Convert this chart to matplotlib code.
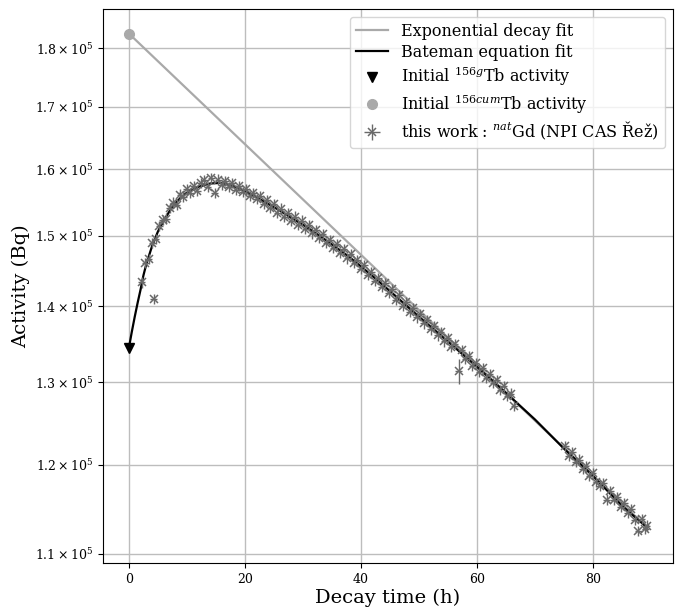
"""
Tb-156 decay: exponential vs Bateman fit, with measured activities.
Saves out.png
"""

import matplotlib
matplotlib.use("Agg")
import matplotlib.pyplot as plt
from matplotlib.ticker import NullLocator, NullFormatter

plt.rcParams["font.family"] = "serif"
plt.rcParams["font.serif"] = ["DejaVu Serif"]
plt.rcParams["mathtext.fontset"] = "dejavuserif"

# ── Data (activities in kBq) ───────────────────────────────────────────────
exp_t   = [0.0, 89.3]
exp_act = [182.6, 112.9]

bateman_t = [0, 0.5, 1, 1.5, 2, 2.5, 3, 4, 5, 6, 7, 8, 9, 10, 12, 14, 16, 18, 20,
             22, 24, 26, 28, 30, 34, 38, 42, 46, 50, 55, 60, 65, 70, 75, 80, 85, 89.3]
bateman_act = [134.5, 136.6, 138.6, 140.5, 142.3, 144.3, 145.9, 148.5, 150.6, 152.2,
               153.6, 154.8, 155.7, 156.4, 157.3, 157.8, 157.9, 157.4, 156.6,
               155.7, 154.7, 153.7, 152.6, 151.6, 149.3, 146.9, 144.2, 141.4,
               138.6, 135.3, 132.0, 128.7, 125.4, 121.9, 118.7, 115.3, 112.9]

init_g_t,   init_g_act   = [0.0], [134.5]
init_cum_t, init_cum_act = [0.0], [182.6]

meas_t = [
    2.2, 2.8, 3.4, 4.0, 4.3, 4.6, 5.2, 5.8, 6.4, 7.0, 7.6, 8.2, 8.8, 9.4, 10.0,
    10.6, 11.2, 11.8, 12.4, 13.0, 13.6, 14.2, 14.8, 15.4, 16.0, 16.6, 17.2, 17.8,
    18.4, 19.0, 19.6, 20.2, 20.8, 21.4, 22.0, 22.6, 23.2, 23.8, 24.4, 25.0, 25.6,
    26.2, 26.8, 27.4, 28.0, 28.6, 29.2, 29.8, 30.4, 31.0, 31.6, 32.2, 32.8, 33.4,
    34.0, 34.6, 35.2, 35.8, 36.4, 37.0, 37.6, 38.2, 38.8, 39.4, 40.0, 40.6, 41.2,
    41.8, 42.4, 43.0, 43.6, 44.2, 44.8, 45.4, 46.0, 46.6, 47.2, 47.8, 48.4, 49.0,
    49.6, 50.2, 50.8, 51.4, 52.0, 52.6, 53.2, 53.8, 54.4, 55.0, 55.6, 56.2, 56.9,
    57.4, 58.0, 58.6, 59.2, 59.8, 60.4, 61.0, 61.6, 62.2, 62.8, 63.4, 64.0, 64.6,
    65.2, 65.8, 66.4,
    75.2, 75.8, 76.4, 77.0, 77.6, 78.2, 78.8, 79.4, 80.0, 80.6, 81.2, 81.8, 82.4,
    83.0, 83.6, 84.2, 84.8, 85.4, 86.0, 86.6, 87.2, 87.8, 88.4, 89.0, 89.3,
]
meas_act = [
    143.3, 146.0, 146.6, 148.9, 141.0, 149.5, 151.4, 152.3, 152.5, 154.1, 154.9,
    154.6, 156.1, 155.8, 156.9, 156.3, 157.4, 156.6, 157.9, 158.3, 157.3, 158.6,
    156.3, 158.4, 157.6, 158.2, 157.3, 157.9, 156.8, 157.4, 156.5, 156.9, 155.9,
    156.4, 155.4, 155.9, 154.7, 155.3, 154.1, 154.7, 153.4, 154.0, 152.8, 153.3,
    152.2, 152.8, 151.5, 152.2, 151.0, 151.6, 150.3, 150.8, 149.6, 150.2, 148.9,
    149.4, 148.2, 148.7, 147.5, 148.0, 146.7, 147.3, 146.0, 146.5, 145.2, 145.7,
    144.3, 144.8, 143.5, 143.9, 142.7, 143.2, 141.8, 142.4, 140.9, 141.5, 140.1,
    140.6, 139.2, 139.8, 138.5, 138.9, 137.7, 138.1, 136.9, 137.3, 136.1, 136.5,
    135.3, 135.8, 134.6, 135.0, 131.4, 134.2, 133.0, 133.4, 132.1, 132.5, 131.3,
    131.8, 130.6, 131.1, 129.9, 130.3, 129.1, 129.5, 128.3, 128.6, 127.1,
    122.2, 121.0, 121.5, 120.3, 120.6, 119.5, 119.8, 118.7, 119.0, 118.0, 117.5,
    117.9, 116.0, 117.0, 116.0, 116.3, 115.2, 115.6, 114.5, 114.9, 113.7, 112.5,
    113.8, 112.7, 113.1,
]
REL_ERR     = 0.005      # typical relative uncertainty
OUTLIER_T   = 56.9       # point with the large uncertainty
OUTLIER_ERR = 1.6        # kBq

TIME_ERR = 0.6           # h

Y_TICKS = [1.1e5, 1.2e5, 1.3e5, 1.4e5, 1.5e5, 1.6e5, 1.7e5, 1.8e5]

# ── Plot ───────────────────────────────────────────────────────────────────
to_bq = lambda vals: [v * 1e3 for v in vals]

yerr = [OUTLIER_ERR * 1e3 if t == OUTLIER_T else a * 1e3 * REL_ERR
        for t, a in zip(meas_t, meas_act)]

fig = plt.figure(figsize=(6.8, 6.09), dpi=100)
ax = fig.add_axes([0.1515, 0.075, 0.8382, 0.9107])

ax.plot(exp_t, to_bq(exp_act), color="darkgray", lw=1.6, label="Exponential decay fit", zorder=2)
ax.plot(bateman_t, to_bq(bateman_act), color="black", lw=1.6, label="Bateman equation fit", zorder=3)
ax.plot(init_g_t, to_bq(init_g_act), "v", color="black", ms=7,
        label=r"Initial $^{156g}$Tb activity", zorder=4)
ax.plot(init_cum_t, to_bq(init_cum_act), "o", color="darkgray", ms=7,
        label=r"Initial $^{156cum}$Tb activity", zorder=4)
ax.errorbar(meas_t, to_bq(meas_act), xerr=TIME_ERR, yerr=yerr, fmt="x",
            color="dimgray", ecolor="dimgray", ms=6, mew=1.1, elinewidth=1.0,
            label=r"this work : $^{nat}$Gd (NPI CAS Řež)", zorder=5)

ax.set_yscale("log")
ax.set_xlim(-4.47, 93.8)
ax.set_ylim(1.0901e5, 1.8708e5)
ax.set_yticks(Y_TICKS)
ax.set_yticklabels([rf"${v / 1e5:.1f}\times10^{{5}}$" for v in Y_TICKS])
ax.yaxis.set_minor_locator(NullLocator())
ax.yaxis.set_minor_formatter(NullFormatter())
ax.set_xticks([0, 20, 40, 60, 80])
ax.tick_params(labelsize=9)

ax.set_xlabel("Decay time (h)", fontsize=14, labelpad=2)
ax.set_ylabel("Activity (Bq)", fontsize=14)
ax.grid(True, color="#bdbdbd", lw=1.0)
ax.set_axisbelow(True)
ax.legend(loc="upper right", fontsize=11.5, labelspacing=0.25)

fig.savefig("out.png", dpi=100)
